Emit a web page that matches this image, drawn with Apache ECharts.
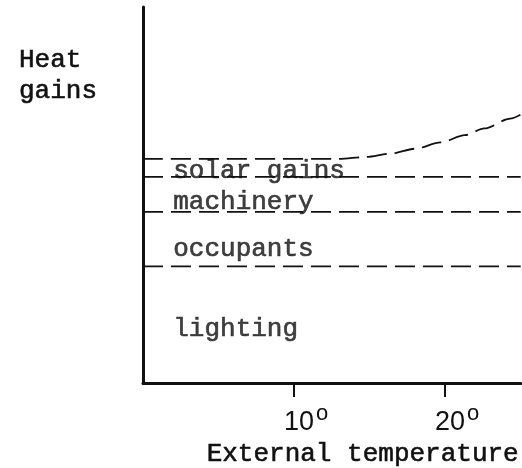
<!DOCTYPE html>
<html>
<head>
<meta charset="utf-8">
<script src="https://cdn.jsdelivr.net/npm/echarts@6/dist/echarts.min.js"></script>
<style>
  html, body { margin: 0; padding: 0; background: #fff; }
  #chart { width: 522px; height: 468px; }
</style>
</head>
<body>
<div id="chart"></div>
<script>
// boundary lines between the stacked heat gain bands (x = external temperature)
var lightingTop = [[0, 31], [25, 31]];
var occupantsTop = [[0, 45.5], [25, 45.5]];
var machineryTop = [[0, 54.8], [25, 54.8]];
var solarTop = [[0, 59.6], [13, 59.6], [14.7, 60.1], [16.4, 61.0], [18, 62.3],
                [19.7, 64.0], [21.3, 65.9], [22.6, 67.7], [24.3, 70.3], [25, 71.4]];

// band labels: [x, y, text]
var bandLabels = [[2, 56.3, 'solar gains'], [2, 48.1, 'machinery'],
                  [2, 35.6, 'occupants'], [2, 14.4, 'lighting']];
var tickValues = [10, 20];

var mono = 'Liberation Mono';
var ink = '#111';

function dashed(name, data, smooth) {
    return {
        name: name,
        type: 'line',
        data: data,
        smooth: smooth ? 0.3 : false,
        smoothMonotone: 'x',
        showSymbol: false,
        silent: true,
        lineStyle: { color: ink, width: 1.8, type: [20, 8] }
    };
}

var textWeight = { textBorderColor: ink, textBorderWidth: 0.6 };

var myChart = echarts.init(document.getElementById('chart'));
var option = {
    animation: false,
    backgroundColor: '#fff',
    title: {
        text: 'Heat\ngains',
        left: 14,
        top: 40,
        textStyle: Object.assign({ fontFamily: mono, fontSize: 26, fontWeight: 'normal', color: ink, lineHeight: 31 }, textWeight)
    },
    grid: { left: 143, right: 0, top: 7, bottom: 85 },
    xAxis: {
        type: 'value',
        min: 0,
        max: 25,
        interval: 10,
        name: 'External temperature',
        nameLocation: 'end',
        nameGap: -2,
        nameTextStyle: Object.assign({
            fontFamily: mono, fontSize: 26, color: ink,
            align: 'right', verticalAlign: 'top', padding: [58, 0, 0, 0]
        }, textWeight),
        splitLine: { show: false },
        axisLine: { lineStyle: { color: ink, width: 3 } },
        axisTick: {
            customValues: tickValues,
            length: 14,
            lineStyle: { color: ink, width: 2 }
        },
        axisLabel: {
            customValues: tickValues,
            margin: 20,
            formatter: function (v) { return '{s|}{n|' + v + '}{d|o}'; },
            rich: {
                s: { width: 24 },
                n: { fontFamily: 'Liberation Sans', fontSize: 27, color: ink },
                d: { fontFamily: 'Liberation Sans', fontSize: 22, color: ink, padding: [0, 0, 17, 2] }
            }
        }
    },
    yAxis: {
        type: 'value',
        min: 0,
        max: 100,
        splitLine: { show: false },
        axisLine: { show: true, lineStyle: { color: ink, width: 3 } },
        axisTick: { show: false },
        axisLabel: { show: false }
    },
    series: [
        dashed('lighting', lightingTop),
        dashed('occupants', occupantsTop),
        dashed('machinery', machineryTop),
        dashed('solar gains', solarTop, true),
        {
            type: 'scatter',
            data: bandLabels,
            symbolSize: 0,
            silent: true,
            label: Object.assign({
                show: true,
                position: 'right',
                distance: 0,
                formatter: function (p) { return p.value[2]; },
                fontFamily: mono,
                fontSize: 26,
                color: ink
            }, textWeight)
        }
    ]
};
myChart.setOption(option);
</script>
</body>
</html>
